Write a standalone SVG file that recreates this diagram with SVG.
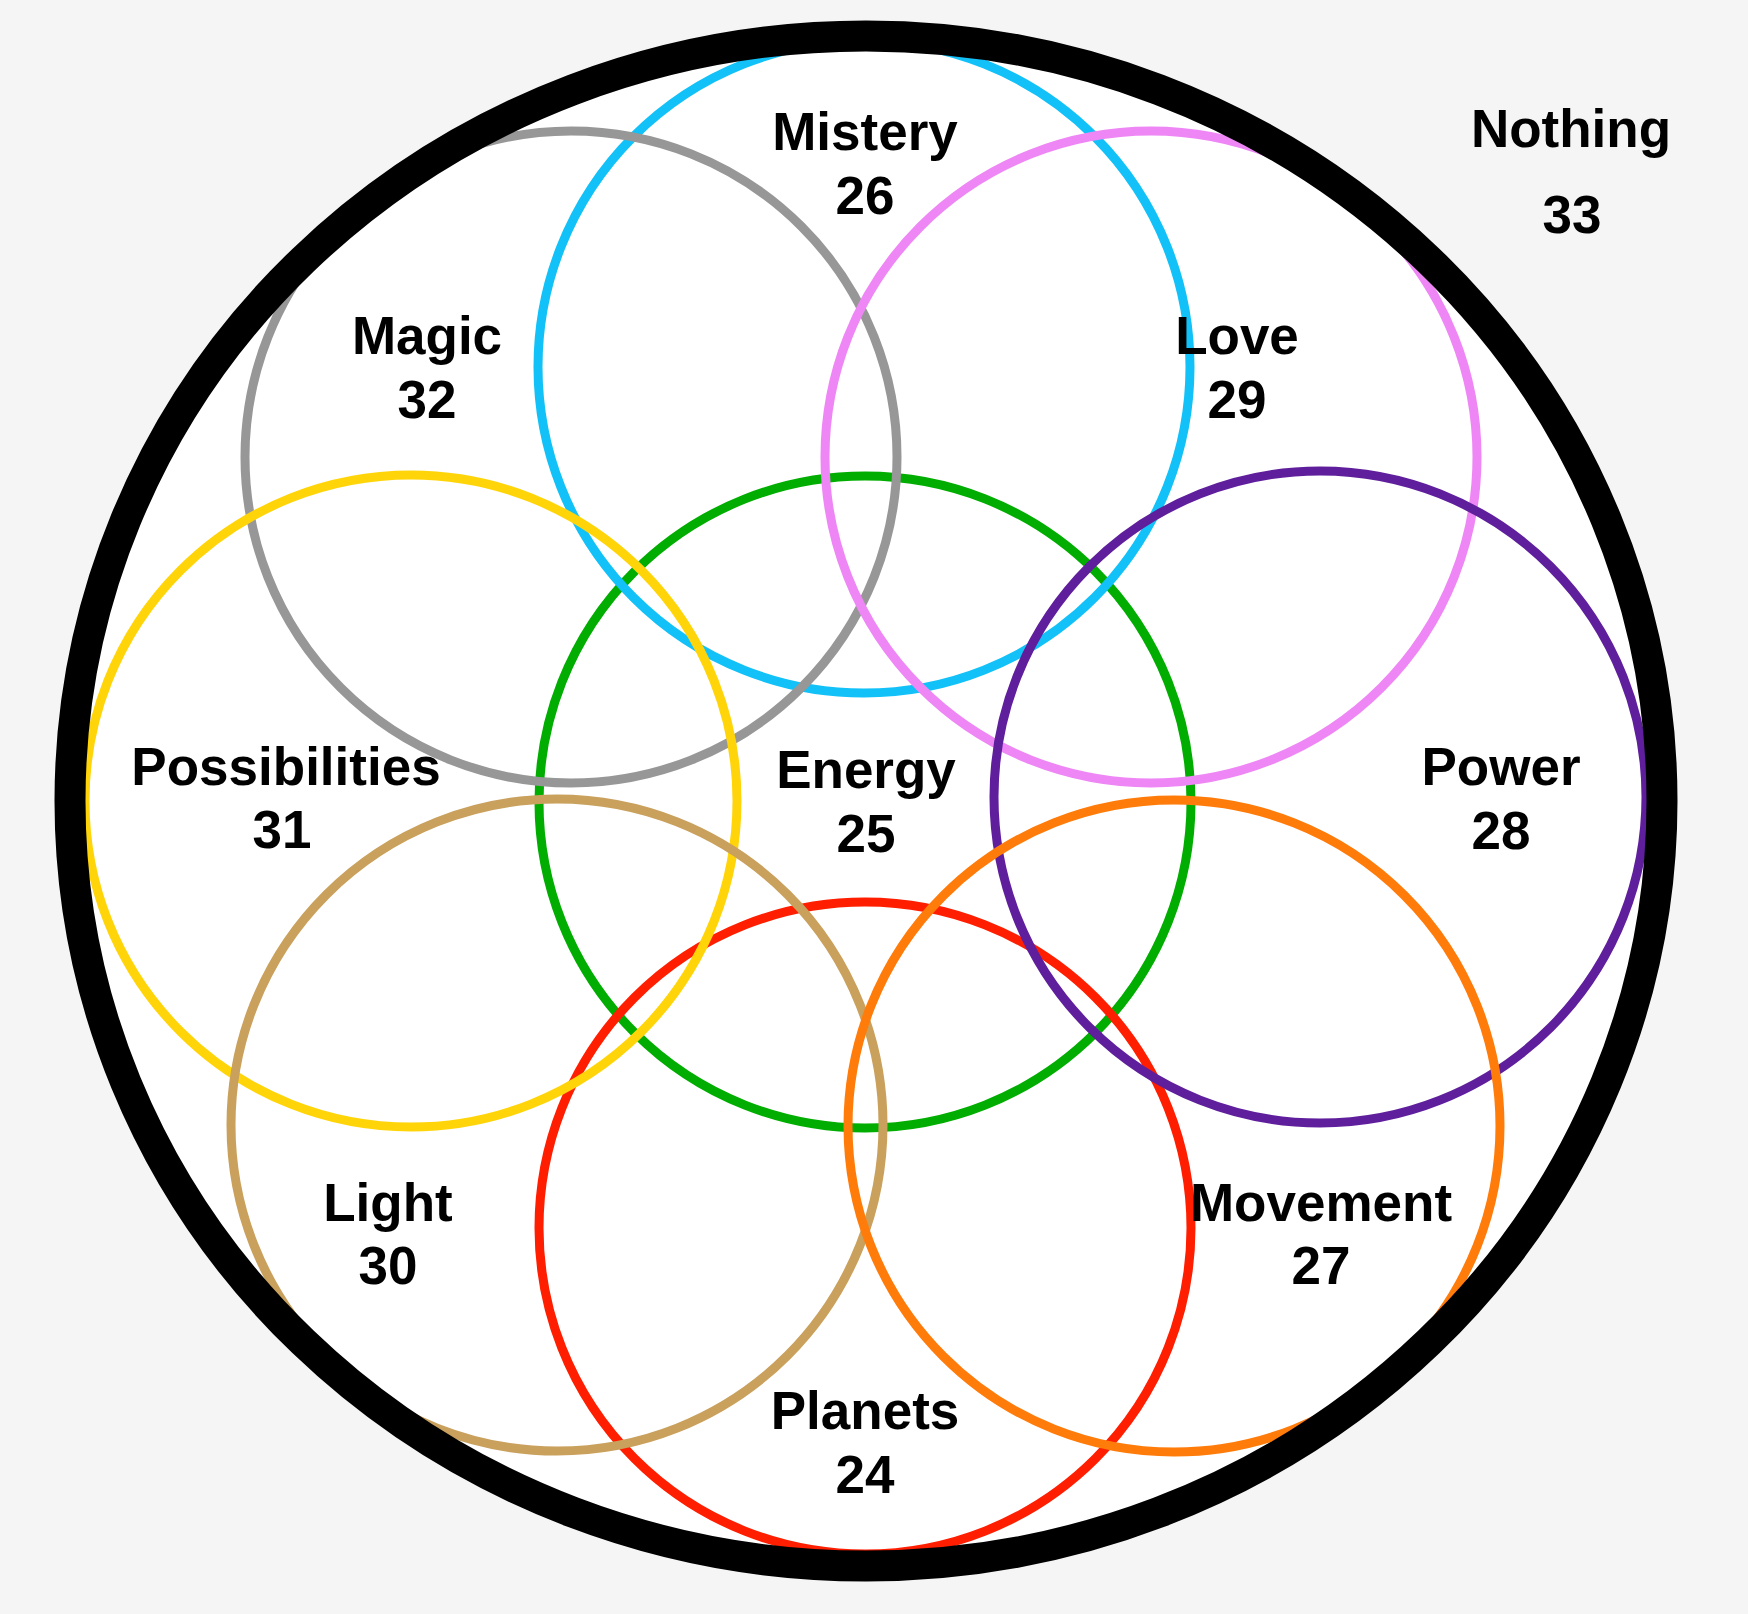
<svg xmlns="http://www.w3.org/2000/svg" width="1748" height="1614" viewBox="0 0 1748 1614">
  <style>
    .ring { fill: none; stroke-width: 9; }
    .lbl { font-family: "Liberation Sans", Arial, Helvetica, sans-serif; font-weight: bold; font-size: 53px; fill: #000; text-anchor: middle; }
  </style>
  <rect x="0" y="0" width="1748" height="1614" fill="#f5f5f5"/>
  <g id="outer-fill">
    <ellipse cx="866" cy="801" rx="796" ry="765" fill="#ffffff"/>
  </g>
  <g id="connectors"/>
  <g id="energy">
    <circle class="ring" cx="865" cy="802" r="326" stroke="#00ad00"/>
  </g>
  <g id="mistery">
    <circle class="ring" cx="864" cy="367" r="326" stroke="#12c1f7"/>
  </g>
  <g id="planets">
    <circle class="ring" cx="865" cy="1228" r="326" stroke="#ff1e00"/>
  </g>
  <g id="magic">
    <circle class="ring" cx="571" cy="457" r="326" stroke="#979797"/>
  </g>
  <g id="love">
    <circle class="ring" cx="1151" cy="457" r="326" stroke="#ee86f5"/>
  </g>
  <g id="possibilities">
    <circle class="ring" cx="411" cy="801" r="326" stroke="#ffd50a"/>
  </g>
  <g id="power">
    <circle class="ring" cx="1320" cy="797" r="326" stroke="#5f1f9c"/>
  </g>
  <g id="light">
    <circle class="ring" cx="557" cy="1125" r="326" stroke="#c9a05c"/>
  </g>
  <g id="movement">
    <circle class="ring" cx="1174" cy="1126" r="326" stroke="#ff7b0a"/>
  </g>
  <g id="outer">
    <ellipse cx="866" cy="801" rx="796" ry="765" fill="none" stroke="#000000" stroke-width="31"/>
  </g>
  <g id="labels">
    <text class="lbl" x="865" y="150">Mistery</text>
    <text class="lbl" x="865" y="214">26</text>
    <text class="lbl" x="427" y="354">Magic</text>
    <text class="lbl" x="427" y="418">32</text>
    <text class="lbl" x="1237" y="354">Love</text>
    <text class="lbl" x="1237" y="418">29</text>
    <text class="lbl" x="1571" y="147">Nothing</text>
    <text class="lbl" x="1572" y="233">33</text>
    <text class="lbl" x="286" y="785">Possibilities</text>
    <text class="lbl" x="282" y="848">31</text>
    <text class="lbl" x="866" y="788">Energy</text>
    <text class="lbl" x="866" y="852">25</text>
    <text class="lbl" x="1501" y="785">Power</text>
    <text class="lbl" x="1501" y="849">28</text>
    <text class="lbl" x="388" y="1221">Light</text>
    <text class="lbl" x="388" y="1284">30</text>
    <text class="lbl" x="1321" y="1221">Movement</text>
    <text class="lbl" x="1321" y="1284">27</text>
    <text class="lbl" x="865" y="1429">Planets</text>
    <text class="lbl" x="865" y="1493">24</text>
  </g>
</svg>
